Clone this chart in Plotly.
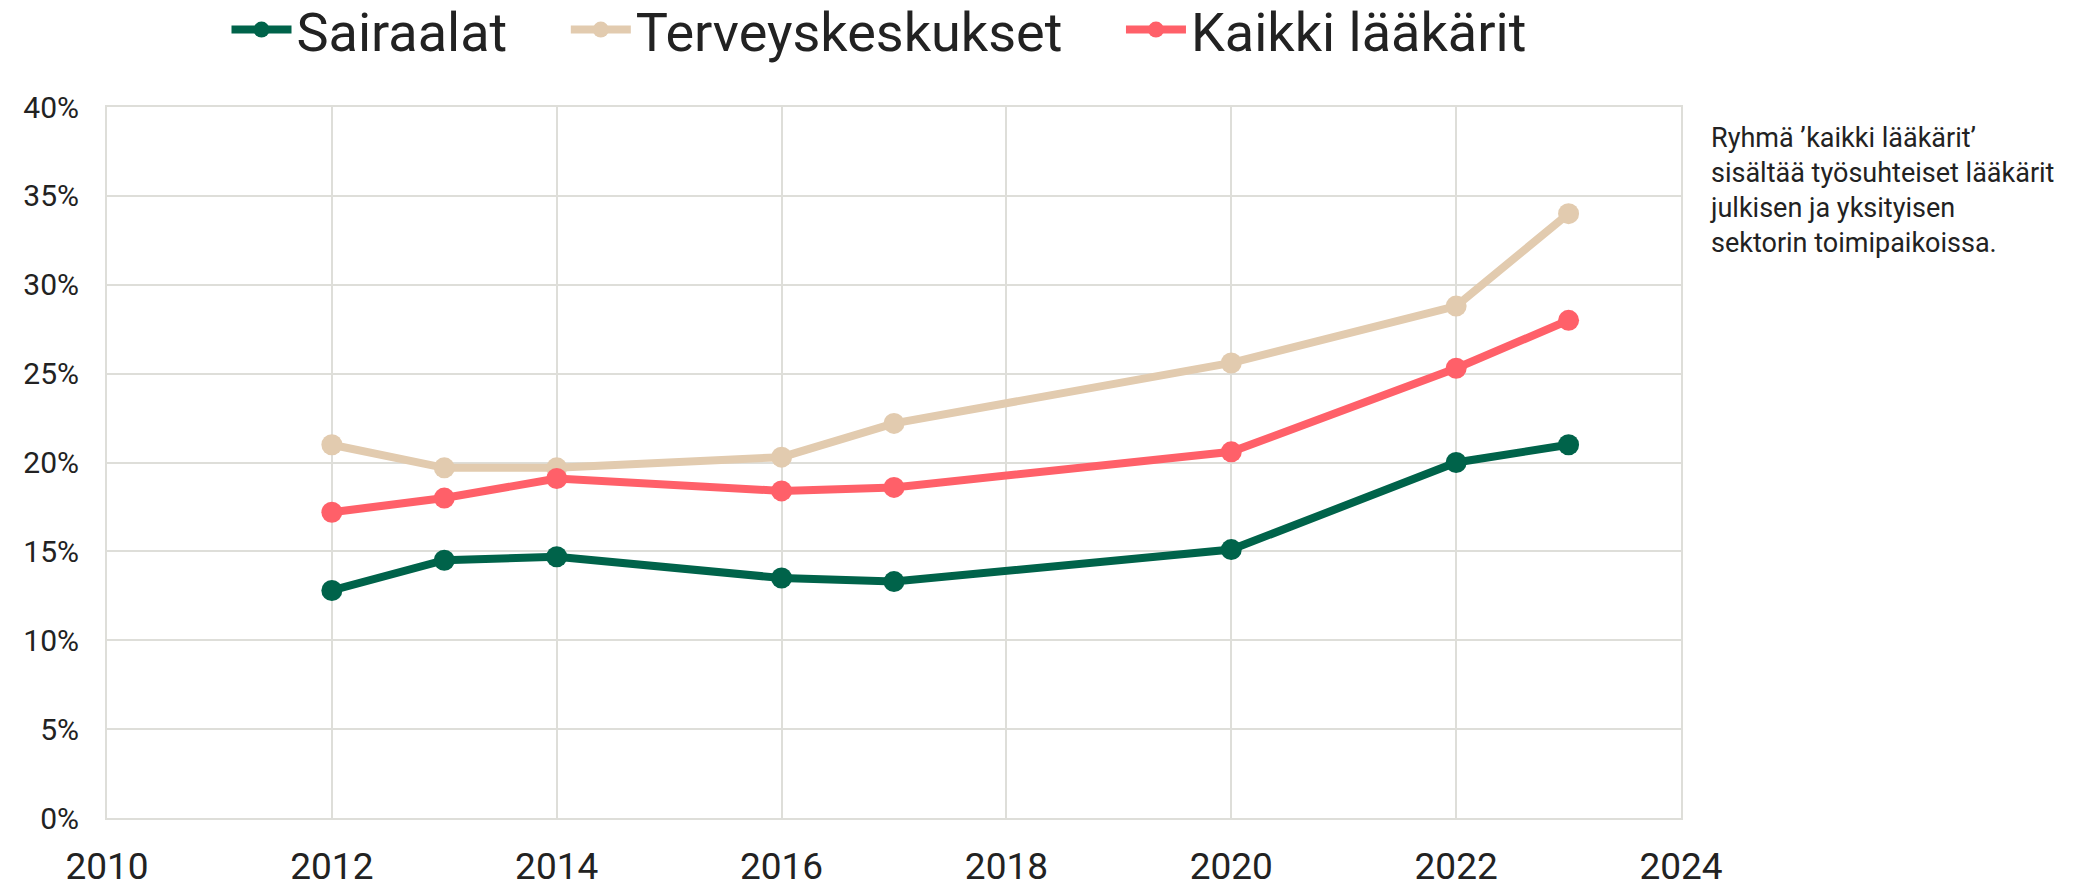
import plotly.graph_objects as go

years = [2012, 2013, 2014, 2016, 2017, 2020, 2022, 2023]
sairaalat = [12.8, 14.5, 14.7, 13.5, 13.3, 15.1, 20.0, 21.0]
terveyskeskukset = [21.0, 19.7, 19.7, 20.3, 22.2, 25.6, 28.8, 34.0]
kaikki = [17.2, 18.0, 19.1, 18.4, 18.6, 20.6, 25.3, 28.0]

series_names = ["Sairaalat", "Terveyskeskukset", "Kaikki lääkärit"]
series_colors = ["#00634A", "#E2CBAF", "#FF6069"]

note_lines = [
    "Ryhmä ’kaikki lääkärit’",
    "sisältää työsuhteiset lääkärit",
    "julkisen ja yksityisen",
    "sektorin toimipaikoissa.",
]

x_ticks = list(range(2010, 2025, 2))
y_ticks = list(range(0, 41, 5))
y_labels = [f"{v}%" for v in y_ticks]

FONT = "Roboto, 'Noto Sans', sans-serif"
TXT = "#222222"
GRID = "#DEDED9"
NBSP = "\u00a0"

fig = go.Figure()
for i, (name, vals, col) in enumerate(zip(series_names, [sairaalat, terveyskeskukset, kaikki], series_colors)):
    label = name + (NBSP * 4 if i < len(series_names) - 1 else "")
    fig.add_trace(go.Scatter(
        x=years, y=vals, name=label, mode="lines+markers",
        line=dict(color=col, width=8),
        marker=dict(color=col, size=21),
    ))

# plot area in pixels
L, R, T, B = 107, 1681, 107, 818
W, H = 2100, 886

def py(ypx):
    return (B - ypx) / (B - T)

def px(xpx):
    return (xpx - L) / (R - L)

fig.add_annotation(
    text="<br>".join(note_lines), xref="paper", yref="paper",
    x=px(1709), y=py(190), xanchor="left", yanchor="middle", align="left",
    showarrow=False, borderpad=0,
    font=dict(family=FONT, size=27, color=TXT),
)

fig.update_layout(
    width=W, height=H, autosize=False,
    margin=dict(l=L, r=W - R, t=T, b=H - B, pad=0, autoexpand=False),
    paper_bgcolor="white", plot_bgcolor="white",
    font=dict(family=FONT, color=TXT),
    showlegend=True,
    legend=dict(
        orientation="h", x=px(879), xanchor="center",
        y=py(30), yanchor="middle",
        font=dict(family=FONT, size=54, color=TXT),
        itemwidth=60, tracegroupgap=0,
    ),
    xaxis=dict(
        range=[2010, 2024], tickvals=x_ticks, ticktext=[str(v) for v in x_ticks],
        showgrid=True, gridcolor=GRID, gridwidth=2,
        showline=True, linecolor=GRID, linewidth=2, mirror=True,
        zeroline=False, ticks="", ticklabelstandoff=15, automargin=False,
        tickfont=dict(family=FONT, size=37, color=TXT),
    ),
    yaxis=dict(
        range=[0, 40], tickvals=y_ticks, ticktext=y_labels,
        showgrid=True, gridcolor=GRID, gridwidth=2,
        showline=True, linecolor=GRID, linewidth=2, mirror=True,
        zeroline=False, ticks="", ticklabelstandoff=20, automargin=False,
        tickfont=dict(family=FONT, size=30, color=TXT),
    ),
)

fig.write_html("out.html", config={"displayModeBar": False},
               post_script="document.body.style.margin='0';")
